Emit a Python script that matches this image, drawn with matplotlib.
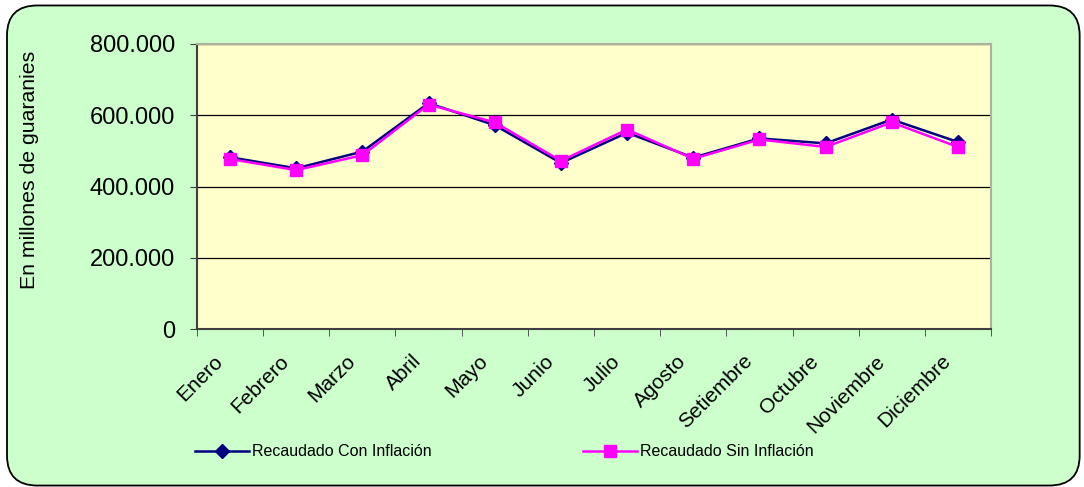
import matplotlib
matplotlib.use("Agg")
import matplotlib.pyplot as plt
from matplotlib.patches import FancyBboxPatch
from matplotlib.ticker import FuncFormatter

meses = ["Enero", "Febrero", "Marzo", "Abril", "Mayo", "Junio", "Julio",
         "Agosto", "Setiembre", "Octubre", "Noviembre", "Diciembre"]
con_inflacion = [482000, 451000, 498000, 634000, 572000, 466000, 551000,
                 481000, 535000, 521000, 588000, 525000]
sin_inflacion = [477000, 446000, 488000, 630000, 580000, 472000, 560000,
                 478000, 532000, 511000, 580000, 511000]

plt.rcParams['font.family'] = ['Liberation Sans', 'DejaVu Sans']

fig = plt.figure(figsize=(10.84, 4.87), dpi=100)
fig.patch.set_facecolor("white")

# fondo verde redondeado
caja = FancyBboxPatch((7 / 1084, 0.003), 1 - 7 / 1084 - 0.004, 1 - 4 / 487 - 0.006,
                      boxstyle="round,pad=0,rounding_size=0.028",
                      transform=fig.transFigure, facecolor="#CCFFCC",
                      edgecolor="black", linewidth=1.3, mutation_aspect=2.2,
                      zorder=-10)
fig.patches.append(caja)

ax = fig.add_axes([197 / 1084, 1 - 329 / 487, (991 - 197) / 1084, (329 - 44) / 487])
ax.set_zorder(5)
ax.set_facecolor("#FFFFCC")

x = list(range(len(meses)))
l1, = ax.plot(x, con_inflacion, color="#000080", marker="D", markersize=7,
              linewidth=1.8, label="Recaudado Con Inflación", zorder=3)
l2, = ax.plot(x, sin_inflacion, color="#FF00FF", marker="s", markersize=8,
              linewidth=1.8, label="Recaudado Sin Inflación", zorder=4)

ax.set_xlim(-0.5, len(meses) - 0.5)
ax.set_ylim(0, 800000)
ax.set_yticks([0, 200000, 400000, 600000, 800000])
ax.yaxis.set_major_formatter(FuncFormatter(lambda v, p: f"{int(v):,}".replace(",", ".")))
ax.grid(axis="y", color="black", linewidth=0.9)
ax.set_axisbelow(True)

# etiquetas un poco a la izquierda del centro de cada mes
ax.set_xticks([i - 0.15 for i in x])
ax.set_xticklabels(meses, rotation=45, ha="right", va="center",
                   rotation_mode="anchor", fontsize=15)
ax.set_xticks([i - 0.5 for i in range(len(meses) + 1)], minor=True)
ax.tick_params(axis="x", which="major", length=0, pad=21)
ax.tick_params(axis="x", which="minor", length=5, direction="out", color="#404040")
ax.tick_params(axis="y", length=5, direction="out", color="#404040", labelsize=17, pad=11)

for lado in ["left", "bottom"]:
    ax.spines[lado].set_color("#404040")
    ax.spines[lado].set_linewidth(1.5)
for lado in ["right", "top"]:
    ax.spines[lado].set_color("#B0B0A0")
    ax.spines[lado].set_linewidth(1.5)

fig.text(30 / 1084, 1 - 170 / 487, "En millones de guaranies", rotation=90,
         ha="center", va="center", fontsize=15.3)

ley1 = fig.legend(handles=[l1], loc="center left", bbox_to_anchor=(195 / 1084, 1 - 452 / 487),
                  frameon=False, handlelength=3.4, handletextpad=0.2,
                  borderaxespad=0, borderpad=0, prop={"size": 11.5})
ley2 = fig.legend(handles=[l2], loc="center left", bbox_to_anchor=(583 / 1084, 1 - 452 / 487),
                  frameon=False, handlelength=3.4, handletextpad=0.2,
                  borderaxespad=0, borderpad=0, prop={"size": 11.5})

fig.savefig("out.png", dpi=100, facecolor=fig.get_facecolor())
